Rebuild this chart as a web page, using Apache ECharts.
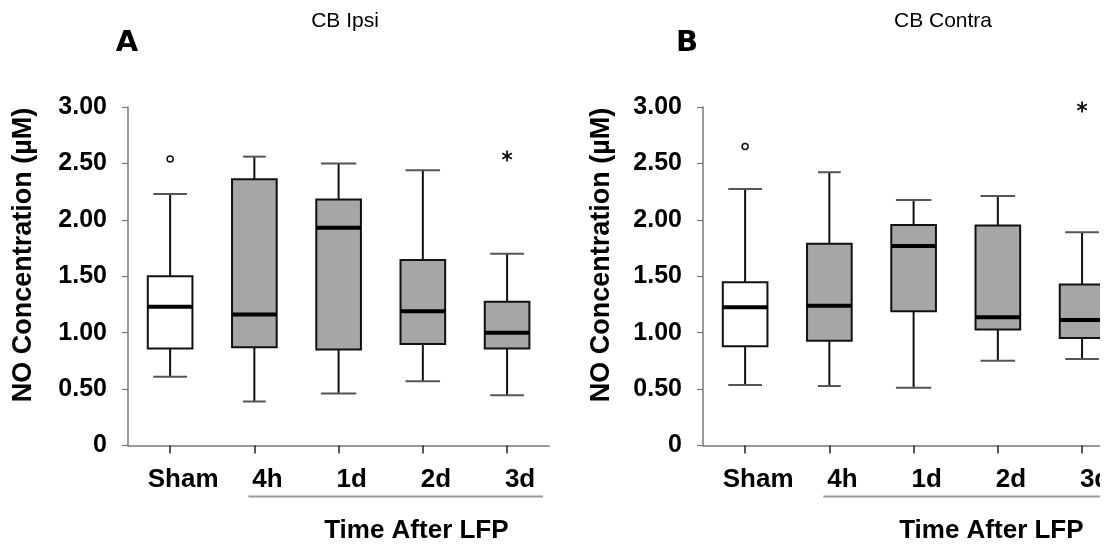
<!DOCTYPE html>
<html>
<head>
<meta charset="utf-8">
<script src="https://cdn.jsdelivr.net/npm/echarts@6/dist/echarts.min.js"></script>
<style>
html,body{margin:0;padding:0;background:#fff;}
#c{width:1100px;height:547px;}
</style>
</head>
<body>
<div id="c"></div>
<script>
// ---------- data ----------
const categories = ['Sham', '4h', '1d', '2d', '3d'];
const yTickValues = [0, 0.5, 1, 1.5, 2, 2.5, 3];
const yTickLabels = ['0', '0.50', '1.00', '1.50', '2.00', '2.50', '3.00'];

// Panel A: CB Ipsi
const ipsiWhiskerLow  = [0.61, 0.39, 0.46, 0.57, 0.445];
const ipsiQ1          = [0.86, 0.87, 0.85, 0.90, 0.86];
const ipsiMedian      = [1.23, 1.16, 1.93, 1.19, 1.00];
const ipsiQ3          = [1.50, 2.36, 2.18, 1.645, 1.275];
const ipsiWhiskerHigh = [2.23, 2.56, 2.50, 2.44, 1.70];
const ipsiCircleOutliers = [[0, 2.54]];
const ipsiStarOutliers   = [[4, 2.565]];

// Panel B: CB Contra
const contraWhiskerLow  = [0.536, 0.527, 0.512, 0.752, 0.767];
const contraQ1          = [0.879, 0.929, 1.19, 1.027, 0.953];
const contraMedian      = [1.225, 1.239, 1.769, 1.137, 1.113];
const contraQ3          = [1.447, 1.789, 1.955, 1.949, 1.426];
const contraWhiskerHigh = [2.274, 2.422, 2.176, 2.212, 1.89];
const contraCircleOutliers = [[0, 2.65]];
const contraStarOutliers   = [[4, 3.0]];

// ---------- styles / layout ----------
const FONT = '"Liberation Sans", Arial, sans-serif';
const boxFill = ['#ffffff', '#a6a6a6', '#a6a6a6', '#a6a6a6', '#a6a6a6'];
const capFrac = [0.40, 0.27, 0.42, 0.41, 0.40];
const gridLeft = [128, 703];

function boxData(lo, q1, med, q3, hi) {
  return categories.map((c, i) => [i, lo[i], q1[i], med[i], q3[i], hi[i]]);
}

function renderBox(params, api) {
  const idx = api.value(0);
  const x = api.coord([idx, 0])[0];
  const yLo = api.coord([idx, api.value(1)])[1];
  const yQ1 = api.coord([idx, api.value(2)])[1];
  const yMed = api.coord([idx, api.value(3)])[1];
  const yQ3 = api.coord([idx, api.value(4)])[1];
  const yHi = api.coord([idx, api.value(5)])[1];
  const band = api.size([1, 0])[0];
  const bw = band * 0.53;
  const cw = band * capFrac[idx];
  const lineStyle = { stroke: '#111', lineWidth: 2 };
  const capStyle = { stroke: '#555', lineWidth: 2 };
  return {
    type: 'group',
    children: [
      { type: 'line', shape: { x1: x, y1: yHi, x2: x, y2: yQ3 }, style: lineStyle },
      { type: 'line', shape: { x1: x, y1: yQ1, x2: x, y2: yLo }, style: lineStyle },
      { type: 'line', shape: { x1: x - cw / 2, y1: yHi, x2: x + cw / 2, y2: yHi }, style: capStyle },
      { type: 'line', shape: { x1: x - cw / 2, y1: yLo, x2: x + cw / 2, y2: yLo }, style: capStyle },
      { type: 'rect', shape: { x: x - bw / 2, y: yQ3, width: bw, height: yQ1 - yQ3 },
        style: { fill: boxFill[idx], stroke: '#111', lineWidth: 2 } },
      { type: 'line', shape: { x1: x - bw / 2, y1: yMed, x2: x + bw / 2, y2: yMed },
        style: { stroke: '#000', lineWidth: 4 } }
    ]
  };
}

function renderCircle(params, api) {
  const p = api.coord([api.value(0), api.value(1)]);
  return { type: 'circle', shape: { cx: p[0], cy: p[1], r: 3 },
           style: { fill: '#fff', stroke: '#111', lineWidth: 1.5 } };
}

function renderStar(params, api) {
  const p = api.coord([api.value(0), api.value(1)]);
  const r = 5.5;
  const kids = [];
  for (let k = 0; k < 3; k++) {
    const a = Math.PI / 2 + k * Math.PI / 3;
    kids.push({ type: 'line',
      shape: { x1: p[0] - r * Math.cos(a), y1: p[1] - r * Math.sin(a),
               x2: p[0] + r * Math.cos(a), y2: p[1] + r * Math.sin(a) },
      style: { stroke: '#111', lineWidth: 1.8 } });
  }
  return { type: 'group', children: kids };
}

function xAxisCfg(gridIndex) {
  return {
    type: 'category', gridIndex: gridIndex, data: categories, boundaryGap: true,
    axisLine: { show: true, lineStyle: { color: '#777', width: 1.5 } },
    axisTick: { show: true, alignWithLabel: true, length: 8, lineStyle: { color: '#222', width: 1.5 } },
    axisLabel: { color: '#000', fontFamily: FONT, fontWeight: 'bold', fontSize: 26,
                 margin: 21, padding: [0, 0, 0, 26], interval: 0, hideOverlap: false },
    splitLine: { show: false }
  };
}
function yAxisCfg(gridIndex) {
  return {
    type: 'value', gridIndex: gridIndex, min: 0, max: 3, interval: 0.5,
    axisLine: { show: true, lineStyle: { color: '#777', width: 1.5 } },
    axisTick: { show: true, length: 6, lineStyle: { color: '#777', width: 1.2 } },
    axisLabel: { color: '#000', fontFamily: FONT, fontWeight: 'bold', fontSize: 25, margin: 21,
                 formatter: v => { const i = yTickValues.findIndex(t => Math.abs(t - v) < 1e-9); return i >= 0 ? yTickLabels[i] : ''; } },
    splitLine: { show: false }
  };
}

const chart = echarts.init(document.getElementById('c'), null, { renderer: 'canvas' });
const option = {
  backgroundColor: '#fff',
  animation: false,
  grid: [
    { left: gridLeft[0], top: 107, width: 421.2, height: 338.5, outerBoundsMode: 'none', containLabel: false },
    { left: gridLeft[1], top: 107, width: 421.2, height: 338.5, outerBoundsMode: 'none', containLabel: false }
  ],
  xAxis: [xAxisCfg(0), xAxisCfg(1)],
  yAxis: [yAxisCfg(0), yAxisCfg(1)],
  series: [
    { type: 'custom', xAxisIndex: 0, yAxisIndex: 0, renderItem: renderBox,
      encode: { x: 0, y: [1, 2, 3, 4, 5] },
      data: boxData(ipsiWhiskerLow, ipsiQ1, ipsiMedian, ipsiQ3, ipsiWhiskerHigh) },
    { type: 'custom', xAxisIndex: 0, yAxisIndex: 0, renderItem: renderCircle,
      encode: { x: 0, y: 1 }, data: ipsiCircleOutliers },
    { type: 'custom', xAxisIndex: 0, yAxisIndex: 0, renderItem: renderStar,
      encode: { x: 0, y: 1 }, data: ipsiStarOutliers },
    { type: 'custom', xAxisIndex: 1, yAxisIndex: 1, renderItem: renderBox,
      encode: { x: 0, y: [1, 2, 3, 4, 5] },
      data: boxData(contraWhiskerLow, contraQ1, contraMedian, contraQ3, contraWhiskerHigh) },
    { type: 'custom', xAxisIndex: 1, yAxisIndex: 1, renderItem: renderCircle,
      encode: { x: 0, y: 1 }, data: contraCircleOutliers },
    { type: 'custom', xAxisIndex: 1, yAxisIndex: 1, renderItem: renderStar,
      encode: { x: 0, y: 1 }, data: contraStarOutliers }
  ]
};
chart.setOption(option);

// ---------- annotations (text + underline) ----------
function px(axisIdx, cat) { return chart.convertToPixel({ xAxisIndex: axisIdx }, cat); }
const lineY = 496.5;
const graphics = [];
function txt(text, x, y, font, rot) {
  const el = { type: 'text', x: x, y: y, z: 100,
    style: { text: text, fill: '#000', font: font,
             textAlign: 'center', textVerticalAlign: 'middle' } };
  if (rot) el.rotation = rot;
  graphics.push(el);
}
const panelTitles = ['CB Ipsi', 'CB Contra'];
const panelLetters = ['A', 'B'];
const titleOffset = [217, 240];   // title centre relative to the y axis
const letterOffset = [-1, -16];   // panel letter centre relative to the y axis
const yNameOffset = [-104, -101];
[0, 1].forEach(a => {
  const x4h = px(a, '4h'), x3d = px(a, '3d');
  const yAxisX = gridLeft[a];
  graphics.push({ type: 'line', z: 100,
    shape: { x1: x4h - 6, y1: lineY, x2: x3d + 36, y2: lineY },
    style: { stroke: '#999', lineWidth: 2 } });
  txt('Time After LFP', x4h + 162, 531, 'bold 26px ' + FONT);
  txt('NO Concentration (\u00b5M)', yAxisX + yNameOffset[a], 255, 'bold 27px ' + FONT, Math.PI / 2);
  txt(panelLetters[a], yAxisX + letterOffset[a], 43, 'bold 29px "DejaVu Sans", sans-serif');
  txt(panelTitles[a], yAxisX + titleOffset[a], 21, 'normal 21px ' + FONT);
});
chart.setOption({ graphic: graphics });
</script>
</body>
</html>
